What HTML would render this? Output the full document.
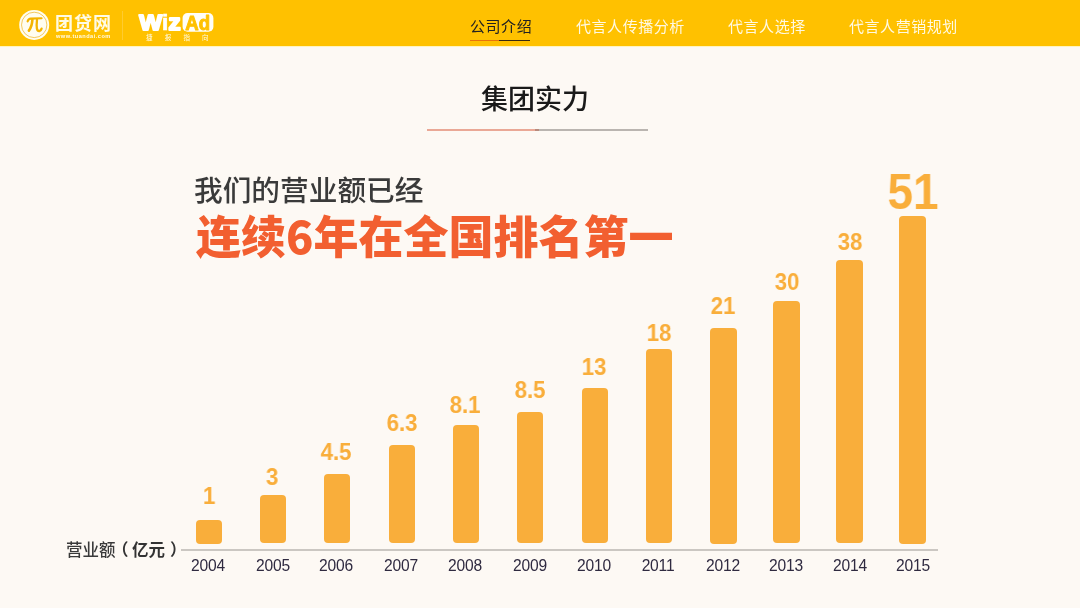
<!DOCTYPE html>
<html lang="zh-CN">
<head>
<meta charset="utf-8">
<title>集团实力</title>
<style>
*{margin:0;padding:0;box-sizing:border-box;}
html,body{width:1080px;height:608px;overflow:hidden;background:#fdf9f4;}
body{position:relative;font-family:"Liberation Sans","Noto Sans CJK SC",sans-serif;}
.abs{position:absolute;white-space:nowrap;}
.nav,.title,.h1,.h2,.val,.yr,.ylab,.abs{will-change:transform;}
#hdr{position:absolute;left:0;top:0;width:1080px;height:46px;background:#ffc100;}
#hdr2{position:absolute;left:0;top:46px;width:1080px;height:1px;background:#fff4c0;}
.nav{position:absolute;font-size:15px;line-height:22px;letter-spacing:0.55px;color:#fff9e2;font-family:"Liberation Sans","Noto Sans CJK SC",sans-serif;}
.nav.on{color:#222;}
.ul1{position:absolute;left:470px;top:40px;width:29px;height:1px;background:#e8730a;}
.ul2{position:absolute;left:499px;top:40px;width:31px;height:1px;background:#3a2a10;}
.title{position:absolute;left:481px;top:82px;font-size:27px;line-height:36px;color:#1a1a1a;font-weight:500;}
.tl1{position:absolute;left:427px;top:129px;width:110px;height:2px;background:#eaa896;}
.tl2{position:absolute;left:537px;top:129px;width:111px;height:2px;background:#bab5b0;}
.h1{position:absolute;left:194px;top:172px;font-size:28.7px;line-height:38px;color:#3a3a3a;font-weight:500;}
.h2{position:absolute;left:196px;top:206px;font-size:45px;line-height:58px;color:#f25f30;font-weight:900;font-family:"Noto Sans CJK SC",sans-serif;}
.bar{position:absolute;width:26px;background:#f9ae3b;border-radius:4px;}
.val{position:absolute;width:60px;text-align:center;font-family:"Liberation Sans",sans-serif;font-weight:bold;font-size:24px;line-height:22px;color:#f9ae3b;letter-spacing:-0.2px;transform:scaleX(0.93);}
.yr{position:absolute;width:60px;text-align:center;font-family:"Liberation Sans",sans-serif;font-size:15.6px;line-height:18px;color:#2f2a40;letter-spacing:-0.2px;}
.axis{position:absolute;left:181px;top:549px;width:757px;height:2px;background:#cbc7c2;}
.ylab{position:absolute;top:538px;font-size:16.5px;line-height:24px;color:#333;white-space:nowrap;}
.val.big{width:100px;font-size:49.5px;line-height:48px;transform:scaleX(0.93);letter-spacing:0;}
</style>
</head>
<body>
<div id="hdr">
  <svg class="abs" style="left:0;top:0" width="230" height="46" viewBox="0 0 230 46">
    <circle cx="34.2" cy="24.9" r="15" fill="#fffdf0"/>
    <circle cx="34.2" cy="24.9" r="12.7" fill="none" stroke="#f3c34f" stroke-width="0.9"/>
    <g fill="none" stroke="#f4b400" stroke-linecap="round">
      <path d="M27.6 21.4 Q28.4 18.7 30.8 18.6 L41.6 18.3" stroke-width="2.1"/>
      <path d="M32.4 19.6 Q32 26.5 28.9 30.6" stroke-width="2.6"/>
      <path d="M37 19.6 Q36.4 25 36.9 28.6 Q37.6 31.4 39.6 31 Q41 30.4 41.6 28.6" stroke-width="2.3"/>
    </g>
    <text x="139.2" y="30.4" font-family="Liberation Sans" font-weight="bold" font-size="21.5" fill="#fff" stroke="#fff" stroke-width="1.9" stroke-linejoin="round" textLength="41.5" lengthAdjust="spacingAndGlyphs">W<tspan stroke-width="0.5">i</tspan>z</text>
    <rect x="182.6" y="13" width="30.8" height="18.7" rx="5" fill="#fffef8"/>
    <text x="185.3" y="29.5" font-family="Liberation Sans" font-weight="bold" font-size="19.4" fill="#ffc100" stroke="#ffc100" stroke-width="0.9" stroke-linejoin="round" textLength="24.8" lengthAdjust="spacingAndGlyphs">Ad</text>
  </svg>
  <div class="abs" style="left:55px;top:11px;font-size:18px;line-height:26px;color:#fffbe6;font-weight:bold;letter-spacing:1px;">团贷网</div>
  <div class="abs" style="left:56px;top:33px;font-size:5.6px;line-height:6px;color:#fffbe6;font-weight:bold;letter-spacing:0.5px;">www.tuandai.com</div>
  <div class="abs" style="left:122px;top:11px;width:1px;height:29px;background:#ffcb30;"></div>
  <div class="abs" style="left:145.5px;top:33px;font-size:6.5px;line-height:9px;color:#fffbe6;letter-spacing:12.2px;">捷报指向</div>

  <div class="nav on" style="left:470px;top:16px;">公司介绍</div>
  <div class="nav" style="left:576px;top:16px;">代言人传播分析</div>
  <div class="nav" style="left:728px;top:16px;">代言人选择</div>
  <div class="nav" style="left:849px;top:16px;">代言人营销规划</div>
  <div class="ul1"></div><div class="ul2"></div>
</div>

<div id="hdr2"></div>
<div class="title">集团实力</div>
<div class="tl1"></div><div class="tl2"></div><div style="position:absolute;left:535px;top:129px;width:4px;height:2px;background:#b88a7c;"></div>

<div class="h1">我们的营业额已经</div>
<div class="h2">连续6年在全国排名第一</div>

<div class="axis"></div>
<div class="ylab" style="left:66px;font-weight:500;color:#3a3a3a;">营业额</div>
<div class="ylab" style="left:111.5px;font-weight:bold;">（</div>
<div class="ylab" style="left:131.5px;font-weight:bold;">亿元</div>
<div class="ylab" style="left:170px;font-weight:bold;">）</div>

<!-- bars -->
<div class="bar" style="left:196.0px;top:520.0px;width:26.0px;height:23.5px"></div>
<div class="bar" style="left:260.2px;top:494.6px;width:25.7px;height:48.9px"></div>
<div class="bar" style="left:324.3px;top:473.6px;width:25.5px;height:69.9px"></div>
<div class="bar" style="left:389.0px;top:444.6px;width:25.9px;height:98.9px"></div>
<div class="bar" style="left:453.2px;top:425.4px;width:25.5px;height:118.1px"></div>
<div class="bar" style="left:517.4px;top:412.2px;width:25.4px;height:131.3px"></div>
<div class="bar" style="left:582.2px;top:388.1px;width:25.9px;height:155.4px"></div>
<div class="bar" style="left:646.2px;top:349.2px;width:25.6px;height:194.3px"></div>
<div class="bar" style="left:710.0px;top:328.0px;width:26.9px;height:215.5px"></div>
<div class="bar" style="left:773.0px;top:301.4px;width:27.1px;height:242.1px"></div>
<div class="bar" style="left:836.0px;top:259.9px;width:27.1px;height:283.6px"></div>
<div class="bar" style="left:899.4px;top:215.5px;width:26.4px;height:328.0px"></div>
<!-- values -->
<div class="val" style="left:178.5px;top:485.0px">1</div>
<div class="val" style="left:241.5px;top:466.0px">3</div>
<div class="val" style="left:306.2px;top:441.0px">4.5</div>
<div class="val" style="left:371.5px;top:411.5px">6.3</div>
<div class="val" style="left:435.2px;top:394.0px">8.1</div>
<div class="val" style="left:499.5px;top:379.0px">8.5</div>
<div class="val" style="left:564.0px;top:355.5px">13</div>
<div class="val" style="left:628.5px;top:322.0px">18</div>
<div class="val" style="left:693.0px;top:295.0px">21</div>
<div class="val" style="left:756.8px;top:271.0px">30</div>
<div class="val" style="left:820.0px;top:231.0px">38</div>
<div class="val big" style="left:862.8px;top:167.7px">51</div>
<!-- years -->
<div class="yr" style="left:178.4px;top:557.2px">2004</div>
<div class="yr" style="left:242.5px;top:557.2px">2005</div>
<div class="yr" style="left:306.4px;top:557.2px">2006</div>
<div class="yr" style="left:371.4px;top:557.2px">2007</div>
<div class="yr" style="left:435.2px;top:557.2px">2008</div>
<div class="yr" style="left:499.8px;top:557.2px">2009</div>
<div class="yr" style="left:564.0px;top:557.2px">2010</div>
<div class="yr" style="left:628.0px;top:557.2px">2011</div>
<div class="yr" style="left:693.0px;top:557.2px">2012</div>
<div class="yr" style="left:756.4px;top:557.2px">2013</div>
<div class="yr" style="left:819.9px;top:557.2px">2014</div>
<div class="yr" style="left:882.5px;top:557.2px">2015</div>
</body>
</html>
